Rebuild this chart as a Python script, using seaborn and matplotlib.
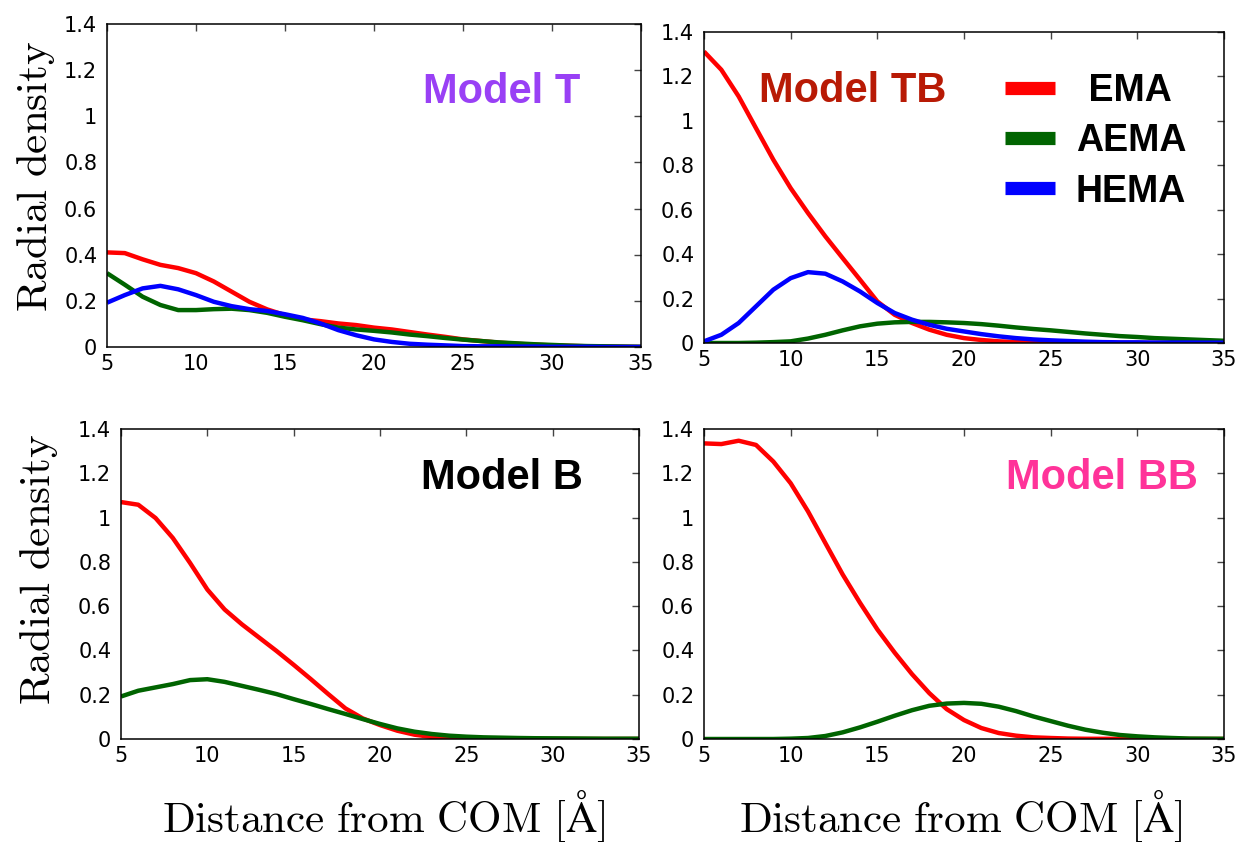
import numpy as np
import pandas as pd
import matplotlib
matplotlib.use("Agg")
import matplotlib.pyplot as plt
from matplotlib.ticker import FuncFormatter
import seaborn as sns

sns.set_theme(style="white")
plt.rcParams['font.family'] = ['DejaVu Sans']
plt.rcParams['mathtext.fontset'] = 'cm'
plt.rcParams['text.color'] = 'black'
plt.rcParams['axes.labelcolor'] = 'black'
plt.rcParams['xtick.color'] = 'black'
plt.rcParams['ytick.color'] = 'black'

# ---------------- data ----------------
distance = list(range(5, 36))  # 5 .. 35 Å

series_names = ["EMA", "AEMA", "HEMA"]
series_colors = ["#ff0000", "#006400", "#0000ff"]

T_EMA = [0.41, 0.407, 0.38, 0.356, 0.342, 0.32, 0.284, 0.24, 0.196, 0.163, 0.138,
         0.12, 0.112, 0.102, 0.095, 0.084, 0.076, 0.065, 0.054, 0.044, 0.033,
         0.026, 0.019, 0.014, 0.010, 0.007, 0.005, 0.003, 0.002, 0.001, 0.0]
T_AEMA = [0.32, 0.27, 0.218, 0.182, 0.16, 0.16, 0.164, 0.166, 0.16, 0.148, 0.131,
          0.116, 0.099, 0.084, 0.076, 0.07, 0.063, 0.054, 0.047, 0.039, 0.032,
          0.026, 0.02, 0.016, 0.012, 0.009, 0.006, 0.004, 0.003, 0.002, 0.001]
T_HEMA = [0.192, 0.225, 0.254, 0.265, 0.25, 0.225, 0.196, 0.177, 0.164, 0.156, 0.142,
          0.126, 0.102, 0.073, 0.051, 0.033, 0.022, 0.014, 0.01, 0.007, 0.004,
          0.003, 0.003, 0.002, 0.002, 0.001, 0.001, 0.001, 0.0, 0.0, 0.0]

TB_EMA = [1.312, 1.23, 1.11, 0.967, 0.825, 0.697, 0.585, 0.48, 0.382, 0.285, 0.187,
          0.127, 0.09, 0.06, 0.037, 0.022, 0.0135, 0.0075, 0.0045, 0.003, 0.0015,
          0.001, 0.0008, 0.0005, 0.0003, 0.0002, 0.0001, 0.0, 0.0, 0.0, 0.0]
TB_AEMA = [0.0, 0.0, 0.0, 0.0015, 0.004, 0.0075, 0.02, 0.037, 0.057, 0.075, 0.087,
           0.093, 0.095, 0.095, 0.093, 0.09, 0.085, 0.078, 0.07, 0.063, 0.057,
           0.05, 0.043, 0.037, 0.031, 0.027, 0.022, 0.019, 0.016, 0.013, 0.01]
TB_HEMA = [0.0075, 0.037, 0.09, 0.165, 0.24, 0.292, 0.319, 0.312, 0.277, 0.232, 0.18,
           0.135, 0.105, 0.082, 0.064, 0.052, 0.04, 0.03, 0.022, 0.016, 0.012,
           0.009, 0.006, 0.004, 0.003, 0.003, 0.002, 0.002, 0.002, 0.0015, 0.0015]

B_EMA = [1.07, 1.058, 0.998, 0.908, 0.795, 0.675, 0.585, 0.518, 0.458, 0.398, 0.335,
         0.27, 0.203, 0.138, 0.093, 0.063, 0.0375, 0.0195, 0.009, 0.0045, 0.002,
         0.001, 0.0008, 0.0005, 0.0003, 0.0002, 0.0001, 0.0, 0.0, 0.0, 0.0]
B_AEMA = [0.192, 0.218, 0.233, 0.248, 0.266, 0.27, 0.258, 0.24, 0.222, 0.203, 0.18,
          0.158, 0.135, 0.113, 0.09, 0.068, 0.048, 0.033, 0.0225, 0.015, 0.0105,
          0.0075, 0.006, 0.0045, 0.0035, 0.003, 0.0025, 0.002, 0.0015, 0.0015, 0.0015]

BB_EMA = [1.335, 1.332, 1.347, 1.328, 1.253, 1.155, 1.028, 0.885, 0.743, 0.615, 0.495,
          0.39, 0.293, 0.207, 0.135, 0.0855, 0.0495, 0.027, 0.015, 0.0075, 0.0045,
          0.002, 0.001, 0.0008, 0.0005, 0.0003, 0.0002, 0.0001, 0.0, 0.0, 0.0]
BB_AEMA = [0.0, 0.0, 0.0, 0.0, 0.0, 0.0015, 0.0045, 0.0135, 0.03, 0.0525, 0.078,
           0.105, 0.13, 0.15, 0.16, 0.163, 0.159, 0.146, 0.126, 0.102, 0.081,
           0.06, 0.042, 0.0285, 0.018, 0.012, 0.0075, 0.0045, 0.002, 0.0015, 0.001]

panel_titles = ["Model T", "Model TB", "Model B", "Model BB"]
title_colors = ["#9940f5", "#b81a05", "#000000", "#ff3399"]

x_ticks = [5, 10, 15, 20, 25, 30, 35]
y_ticks = [0, 0.2, 0.4, 0.6, 0.8, 1.0, 1.2, 1.4]

ylabel_text = r"$\mathrm{Radial\ density}$"
xlabel_text = r"$\mathrm{Distance\ from\ COM\ [\AA]}$"

# ---------------- figure ----------------
W, H = 1244, 842
fig = plt.figure(figsize=(W / 100, H / 100), dpi=100)
fig.patch.set_facecolor("white")


def add_ax(left, right, top, bottom):
    return fig.add_axes([left / W, 1 - bottom / H, (right - left) / W, (bottom - top) / H])


ax_T = add_ax(107, 641, 24, 347)
ax_TB = add_ax(704, 1224, 32, 343)
ax_B = add_ax(121, 639, 429, 739)
ax_BB = add_ax(704, 1224, 429, 739)

panels = [
    (ax_T, [T_EMA, T_AEMA, T_HEMA]),
    (ax_TB, [TB_EMA, TB_AEMA, TB_HEMA]),
    (ax_B, [B_EMA, B_AEMA]),
    (ax_BB, [BB_EMA, BB_AEMA]),
]

title_pos = [
    (0.886, 0.755, "right"),
    (0.105, 0.775, "left"),
    (0.892, 0.806, "right"),
    (0.950, 0.806, "right"),
]

for i, (ax, series) in enumerate(panels):
    for name, col, vals in zip(series_names, series_colors, series):
        sns.lineplot(x=distance, y=vals, color=col, linewidth=3.2, ax=ax,
                     legend=False, solid_capstyle="butt")
    ax.set_xlim(5, 35)
    ax.set_ylim(0, 1.4)
    ax.set_xticks(x_ticks)
    ax.set_yticks(y_ticks)
    ax.yaxis.set_major_formatter(FuncFormatter(lambda v, p: "%g" % round(v, 2)))
    ax.tick_params(direction="in", top=True, right=True, length=5, width=1,
                   color="#444444", labelsize=15, labelcolor="black")
    ax.tick_params(axis="x", pad=5)
    ax.tick_params(axis="y", pad=7)
    for s in ax.spines.values():
        s.set_visible(True)
        s.set_color("black")
        s.set_linewidth(1.1)
    ax.set_facecolor("white")
    ax.grid(False)
    ax.set_xlabel("")
    ax.set_ylabel("")
    tx, ty, ha = title_pos[i]
    ax.text(tx, ty, panel_titles[i], transform=ax.transAxes, ha=ha, va="baseline",
            fontsize=30, fontweight="bold", color=title_colors[i],
            family=["Liberation Sans", "DejaVu Sans"])

# axis labels
ax_T.set_ylabel(ylabel_text, fontsize=31, color="black")
ax_T.yaxis.set_label_coords(-0.094, 0.529)
ax_B.set_ylabel(ylabel_text, fontsize=31, color="black")
ax_B.yaxis.set_label_coords(-0.118, 0.548)
ax_B.set_xlabel(xlabel_text, fontsize=31, color="black")
ax_B.xaxis.set_label_coords(0.507, -0.158)
ax_BB.set_xlabel(xlabel_text, fontsize=31, color="black")
ax_BB.xaxis.set_label_coords(0.494, -0.158)

# legend in Model TB
leg = ax_TB.legend(handles=ax_TB.lines[:3],
                   labels=["\u2004EMA", "AEMA", "HEMA"],
                   loc="upper left", bbox_to_anchor=(0.579, 0.868),
                   frameon=False, borderpad=0, borderaxespad=0,
                   handlelength=1.33, handletextpad=0.56, labelspacing=0.38,
                   prop={"family": ["Liberation Sans", "DejaVu Sans"],
                         "weight": "bold", "size": 27})
for t in leg.get_texts():
    t.set_color("black")
for h in leg.legend_handles:
    h.set_linewidth(9.5)
    h.set_solid_capstyle("butt")

fig.savefig("out.png", dpi=100, facecolor="white")
